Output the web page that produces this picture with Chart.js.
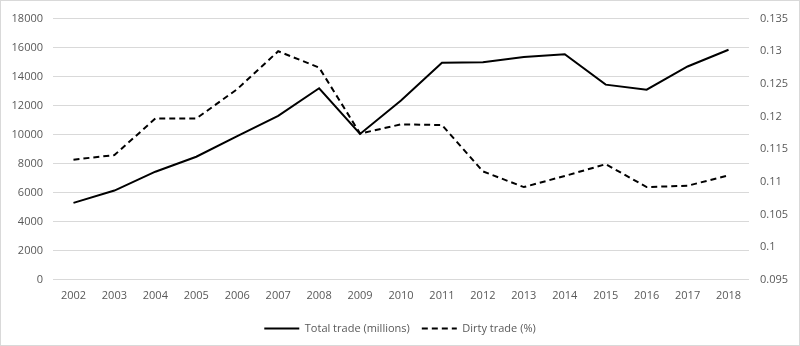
<!DOCTYPE html>
<html>
<head>
<meta charset="utf-8">
<script src="https://cdn.jsdelivr.net/npm/chart.js@4"></script>
<style>
  html, body { margin: 0; padding: 0; background: #fff; }
  #wrap { width: 800px; height: 346px; box-sizing: border-box; border: 1px solid #d9d9d9; }
  canvas { display: block; }
</style>
</head>
<body>
<div id="wrap"><canvas id="chart" width="798" height="344"></canvas></div>
<script>
// values
const years = ['2002', '2003', '2004', '2005', '2006', '2007', '2008', '2009', '2010',
               '2011', '2012', '2013', '2014', '2015', '2016', '2017', '2018'];
const totalTrade = [5300, 6150, 7450, 8480, 9900, 11300, 13200, 10050, 12350,
                    14950, 15000, 15350, 15550, 13450, 13100, 14700, 15850];
const dirtyTrade = [0.1134, 0.1141, 0.1197, 0.1197, 0.1242, 0.1300, 0.1275, 0.1174, 0.1188,
                    0.1187, 0.1116, 0.1092, 0.1109, 0.1127, 0.1092, 0.1094, 0.1110];
const leftTicks = [0, 2000, 4000, 6000, 8000, 10000, 12000, 14000, 16000, 18000];
const rightTicks = [0.095, 0.1, 0.105, 0.11, 0.115, 0.12, 0.125, 0.13, 0.135];

const textColor = '#595959';
const gridColor = '#d9d9d9';
Chart.defaults.font.family = '"Open Sans", sans-serif';
Chart.defaults.font.size = 11;
Chart.defaults.color = textColor;

// legend point styles drop the dataset's dash, so copy it back in
const defaultLabels = Chart.defaults.plugins.legend.labels.generateLabels;
function lineLabels(chart) {
    return defaultLabels(chart).map((item) => {
        item.lineDash = chart.data.datasets[item.datasetIndex].borderDash || [];
        item.lineWidth = 2;
        return item;
    });
}

const ctx = document.getElementById('chart').getContext('2d');
new Chart(ctx, {
    type: 'line',
    data: {
        labels: years,
        datasets: [{
            label: 'Total trade (millions)',
            data: totalTrade,
            yAxisID: 'y',
            borderColor: '#000',
            backgroundColor: '#000',
            borderWidth: 2,
            pointRadius: 0,
            tension: 0,
        }, {
            label: 'Dirty trade (%)',
            data: dirtyTrade,
            yAxisID: 'y1',
            borderColor: '#000',
            backgroundColor: '#000',
            borderWidth: 2,
            borderDash: [6, 4],
            pointRadius: 0,
            tension: 0,
        }],
    },
    options: {
        responsive: false,
        animation: false,
        layout: { padding: { top: 11, left: 0, right: 0, bottom: 1 } },
        plugins: {
            tooltip: { enabled: false },
            legend: {
                position: 'bottom',
                labels: {
                    usePointStyle: true,
                    pointStyle: 'line',
                    pointStyleWidth: 35,
                    boxHeight: 11,
                    padding: 12,
                    color: textColor,
                    generateLabels: lineLabels,
                },
            },
        },
        scales: {
            x: {
                offset: true,
                grid: { display: false, drawTicks: false },
                border: { display: false },
                ticks: { padding: 9, maxRotation: 0, autoSkip: false },
            },
            y: {
                position: 'left',
                min: leftTicks[0],
                max: leftTicks[leftTicks.length - 1],
                afterBuildTicks: (axis) => { axis.ticks = leftTicks.map(v => ({ value: v })); },
                afterFit: (axis) => { axis.width = 52; },
                grid: { color: gridColor, drawTicks: false },
                border: { display: false },
                ticks: { padding: 10, callback: (v) => String(v) },
            },
            y1: {
                position: 'right',
                min: rightTicks[0],
                max: rightTicks[rightTicks.length - 1],
                afterBuildTicks: (axis) => { axis.ticks = rightTicks.map(v => ({ value: v })); },
                afterFit: (axis) => { axis.width = 50; },
                grid: { display: false, drawTicks: false },
                border: { display: false },
                ticks: { padding: 11, callback: (v) => String(+v.toFixed(3)) },
            },
        },
    },
});
</script>
</body>
</html>
